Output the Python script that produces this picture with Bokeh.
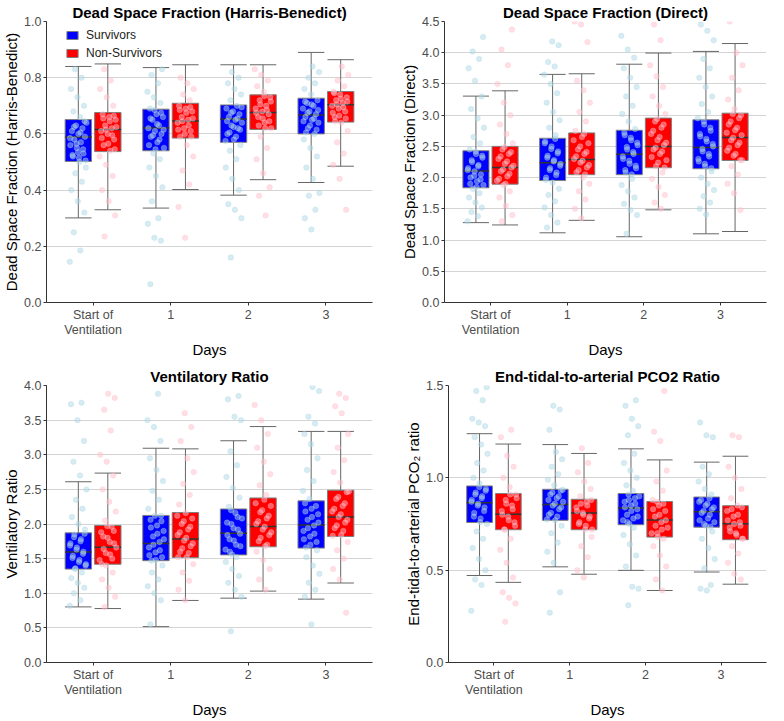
from bokeh.plotting import figure
from bokeh.models import Range1d, PrintfTickFormatter, Legend, LegendItem, ColumnDataSource
from bokeh.layouts import column, row
from bokeh.embed import file_html
from bokeh.resources import INLINE

# ---------------- data ----------------
DAYS = [0, 1, 2, 3]
DAY_LABELS = ["Start of\nVentilation", "1", "2", "3"]
GROUPS = ["Survivors", "Non-Survivors"]

# Dead Space Fraction (Harris-Benedict): box statistics per day
HB_SURV = dict(lo=[0.301, 0.336, 0.382, 0.427], q1=[0.502, 0.540, 0.570, 0.600],
               med=[0.589, 0.621, 0.653, 0.667], q3=[0.651, 0.688, 0.703, 0.727],
               hi=[0.840, 0.836, 0.846, 0.890])
HB_NONS = dict(lo=[0.330, 0.402, 0.437, 0.485], q1=[0.537, 0.585, 0.616, 0.642],
               med=[0.616, 0.646, 0.676, 0.704], q3=[0.676, 0.709, 0.739, 0.751],
               hi=[0.849, 0.846, 0.846, 0.864])
HB_SURV_PTS = [
    [0.145, 0.185, 0.25, 0.32, 0.36, 0.40, 0.43, 0.46, 0.48, 0.50, 0.52, 0.53, 0.55, 0.56, 0.57, 0.58, 0.59, 0.60, 0.61, 0.62, 0.63, 0.64, 0.66, 0.68, 0.70, 0.73, 0.76, 0.80, 0.83,
     0.505, 0.515, 0.525, 0.545, 0.565, 0.585, 0.605, 0.625, 0.645, 0.535],
    [0.065, 0.22, 0.23, 0.28, 0.30, 0.36, 0.41, 0.45, 0.48, 0.51, 0.53, 0.55, 0.57, 0.59, 0.60, 0.61, 0.62, 0.63, 0.65, 0.66, 0.67, 0.69, 0.71, 0.73, 0.75, 0.78, 0.81, 0.83,
     0.545, 0.56, 0.58, 0.595, 0.615, 0.635, 0.655, 0.675, 0.685],
    [0.16, 0.30, 0.33, 0.35, 0.40, 0.44, 0.48, 0.51, 0.54, 0.56, 0.58, 0.60, 0.62, 0.63, 0.64, 0.65, 0.66, 0.67, 0.68, 0.69, 0.70, 0.72, 0.74, 0.76, 0.78, 0.80, 0.82,
     0.575, 0.59, 0.605, 0.615, 0.625, 0.645, 0.655, 0.675, 0.695],
    [0.26, 0.30, 0.33, 0.38, 0.39, 0.44, 0.48, 0.52, 0.55, 0.58, 0.60, 0.62, 0.64, 0.65, 0.66, 0.67, 0.68, 0.69, 0.70, 0.71, 0.72, 0.74, 0.76, 0.78, 0.80, 0.82, 0.84,
     0.605, 0.615, 0.63, 0.645, 0.655, 0.675, 0.685, 0.705, 0.715],
]
HB_NONS_PTS = [
    [0.235, 0.31, 0.36, 0.40, 0.45, 0.49, 0.52, 0.54, 0.56, 0.58, 0.60, 0.61, 0.62, 0.63, 0.65, 0.66, 0.67, 0.70, 0.73, 0.76, 0.79, 0.83,
     0.545, 0.565, 0.585, 0.595, 0.615, 0.625, 0.645, 0.655, 0.665],
    [0.23, 0.34, 0.42, 0.47, 0.52, 0.56, 0.59, 0.61, 0.62, 0.64, 0.65, 0.66, 0.68, 0.69, 0.70, 0.72, 0.74, 0.76, 0.78, 0.80,
     0.59, 0.60, 0.615, 0.63, 0.645, 0.655, 0.675, 0.685, 0.695],
    [0.31, 0.38, 0.41, 0.46, 0.51, 0.55, 0.59, 0.62, 0.64, 0.66, 0.67, 0.68, 0.69, 0.70, 0.72, 0.73, 0.75, 0.77, 0.79, 0.81, 0.83,
     0.62, 0.63, 0.645, 0.655, 0.675, 0.685, 0.705, 0.715, 0.735],
    [0.33, 0.44, 0.49, 0.53, 0.57, 0.61, 0.64, 0.66, 0.68, 0.69, 0.70, 0.71, 0.72, 0.73, 0.74, 0.75, 0.77, 0.79, 0.81, 0.84,
     0.645, 0.655, 0.665, 0.675, 0.695, 0.705, 0.715, 0.725, 0.745],
]

# Dead Space Fraction (Direct)
DI_SURV = dict(lo=[1.279, 1.116, 1.053, 1.100], q1=[1.837, 1.953, 2.047, 2.142],
               med=[2.105, 2.237, 2.374, 2.484], q3=[2.430, 2.630, 2.758, 2.926],
               hi=[3.305, 3.653, 3.816, 4.021])
DI_NONS = dict(lo=[1.242, 1.316, 1.484, 1.137], q1=[1.895, 2.047, 2.158, 2.274],
               med=[2.163, 2.290, 2.500, 2.642], q3=[2.500, 2.716, 2.953, 3.032],
               hi=[3.390, 3.663, 3.995, 4.147])
DI_SURV_PTS = [
    [1.30, 1.38, 1.45, 1.52, 1.60, 1.68, 1.75, 1.82, 1.88, 1.94, 2.00, 2.05, 2.10, 2.15, 2.20, 2.25, 2.32, 2.38, 2.45, 2.55, 2.65, 2.80, 2.95, 3.10, 3.30, 3.55, 3.75, 3.90, 4.02, 4.25,
     1.85, 1.90, 1.97, 2.03, 2.12, 2.18, 2.28, 2.35, 2.42],
    [1.20, 1.28, 1.40, 1.52, 1.62, 1.72, 1.82, 1.92, 2.00, 2.08, 2.15, 2.22, 2.28, 2.35, 2.42, 2.50, 2.58, 2.68, 2.80, 2.92, 3.05, 3.20, 3.35, 3.50, 3.65, 3.78, 3.85, 4.12, 4.18,
     1.96, 2.04, 2.12, 2.19, 2.26, 2.32, 2.39, 2.46, 2.55, 2.62],
    [1.10, 1.40, 1.48, 1.58, 1.68, 1.78, 1.88, 1.98, 2.08, 2.15, 2.22, 2.30, 2.38, 2.45, 2.52, 2.60, 2.68, 2.78, 2.90, 3.02, 3.15, 3.30, 3.45, 3.60, 3.75, 3.92, 4.05, 4.27,
     2.05, 2.12, 2.19, 2.27, 2.34, 2.41, 2.49, 2.56, 2.64, 2.72],
    [1.41, 1.50, 1.60, 1.70, 1.80, 1.90, 2.00, 2.10, 2.18, 2.26, 2.34, 2.42, 2.50, 2.58, 2.66, 2.75, 2.85, 2.95, 3.05, 3.18, 3.30, 3.45, 3.60, 3.75, 3.90, 4.20, 4.35, 4.45,
     2.15, 2.22, 2.30, 2.38, 2.46, 2.54, 2.62, 2.70, 2.80, 2.90],
]
DI_NONS_PTS = [
    [1.30, 1.40, 1.55, 1.68, 1.78, 1.88, 1.95, 2.02, 2.10, 2.16, 2.22, 2.30, 2.38, 2.45, 2.55, 2.70, 2.85, 3.00, 3.20, 3.50, 3.80, 4.05, 4.37,
     1.90, 1.98, 2.06, 2.13, 2.19, 2.26, 2.34, 2.41, 2.49],
    [1.35, 1.50, 1.65, 1.78, 1.90, 2.00, 2.08, 2.16, 2.24, 2.30, 2.38, 2.45, 2.55, 2.65, 2.75, 2.90, 3.05, 3.20, 3.40, 3.55, 4.17, 4.45, 4.50,
     2.05, 2.12, 2.20, 2.27, 2.34, 2.41, 2.50, 2.60, 2.70],
    [1.50, 1.60, 1.72, 1.85, 1.98, 2.08, 2.18, 2.28, 2.38, 2.45, 2.52, 2.60, 2.70, 2.80, 2.90, 3.02, 3.15, 3.30, 3.45, 3.62, 3.80, 4.20, 4.45,
     2.16, 2.24, 2.33, 2.42, 2.48, 2.56, 2.65, 2.75, 2.85, 2.94],
    [1.48, 1.75, 1.90, 2.05, 2.18, 2.28, 2.38, 2.48, 2.56, 2.64, 2.72, 2.80, 2.90, 3.00, 3.10, 3.25, 3.40, 3.60, 3.80, 4.00, 4.50,
     2.28, 2.35, 2.43, 2.52, 2.60, 2.68, 2.76, 2.85, 2.95, 3.02],
]

# Ventilatory Ratio
VR_SURV = dict(lo=[0.803, 0.518, 0.929, 0.915], q1=[1.349, 1.470, 1.554, 1.652],
               med=[1.596, 1.718, 1.867, 1.984], q3=[1.872, 2.124, 2.217, 2.334],
               hi=[2.610, 3.094, 3.202, 3.337])
VR_NONS = dict(lo=[0.779, 0.896, 1.031, 1.148], q1=[1.419, 1.517, 1.671, 1.820],
               med=[1.666, 1.783, 1.965, 2.100], q3=[1.979, 2.166, 2.376, 2.488],
               hi=[2.735, 3.085, 3.407, 3.337])
VR_SURV_PTS = [
    [0.82, 0.90, 1.00, 1.08, 1.15, 1.22, 1.30, 1.36, 1.42, 1.48, 1.54, 1.60, 1.66, 1.72, 1.78, 1.85, 1.92, 2.00, 2.10, 2.22, 2.35, 2.50, 2.70, 2.90, 3.20, 3.50, 3.73, 3.75,
     1.35, 1.40, 1.45, 1.51, 1.57, 1.63, 1.69, 1.75, 1.81, 1.86],
    [0.55, 0.90, 1.00, 1.10, 1.20, 1.30, 1.40, 1.48, 1.55, 1.62, 1.70, 1.78, 1.86, 1.95, 2.04, 2.12, 2.22, 2.35, 2.48, 2.62, 2.78, 2.95, 3.20, 3.40, 3.50, 3.88,
     1.47, 1.52, 1.59, 1.66, 1.74, 1.82, 1.90, 1.98, 2.06, 2.12],
    [0.45, 0.95, 1.05, 1.15, 1.25, 1.35, 1.45, 1.52, 1.60, 1.68, 1.76, 1.84, 1.92, 2.00, 2.08, 2.16, 2.25, 2.38, 2.52, 2.68, 2.85, 3.05, 3.50, 3.55, 3.80, 3.85,
     1.56, 1.63, 1.70, 1.78, 1.86, 1.94, 2.02, 2.10, 2.20],
    [0.55, 0.95, 1.05, 1.15, 1.28, 1.40, 1.52, 1.62, 1.70, 1.78, 1.86, 1.94, 2.02, 2.10, 2.18, 2.26, 2.36, 2.48, 2.62, 2.78, 2.95, 3.15, 3.30, 3.45, 3.55, 3.92, 3.98,
     1.66, 1.74, 1.82, 1.90, 1.98, 2.06, 2.14, 2.22, 2.30],
]
VR_NONS_PTS = [
    [0.80, 0.95, 1.08, 1.20, 1.30, 1.40, 1.48, 1.56, 1.64, 1.72, 1.80, 1.88, 1.96, 2.05, 2.18, 2.32, 2.50, 2.70, 2.90, 3.00, 3.35, 3.65, 3.82, 3.88,
     1.42, 1.50, 1.58, 1.66, 1.74, 1.82, 1.90, 1.97],
    [0.90, 1.05, 1.18, 1.30, 1.42, 1.52, 1.60, 1.68, 1.76, 1.84, 1.92, 2.00, 2.08, 2.16, 2.28, 2.42, 2.58, 2.75, 2.95, 3.20, 3.40, 3.60,
     1.52, 1.58, 1.65, 1.72, 1.80, 1.88, 1.96, 2.04, 2.12],
    [1.05, 1.20, 1.35, 1.48, 1.60, 1.70, 1.80, 1.88, 1.96, 2.04, 2.12, 2.20, 2.30, 2.42, 2.56, 2.72, 2.90, 3.10, 3.30, 3.50, 3.72,
     1.68, 1.75, 1.84, 1.92, 2.00, 2.08, 2.17, 2.26, 2.35],
    [0.72, 1.20, 1.35, 1.50, 1.62, 1.74, 1.84, 1.94, 2.02, 2.10, 2.18, 2.26, 2.36, 2.46, 2.60, 2.75, 2.92, 3.10, 3.30, 3.60, 3.70, 3.82, 3.88,
     1.83, 1.90, 1.98, 2.06, 2.14, 2.22, 2.30, 2.39, 2.47],
]

# End-tidal-to-arterial PCO2 Ratio
ET_SURV = dict(lo=[0.471, 0.518, 0.499, 0.490], q1=[0.758, 0.770, 0.746, 0.733],
               med=[0.865, 0.856, 0.837, 0.816], q3=[0.956, 0.938, 0.915, 0.896],
               hi=[1.239, 1.180, 1.157, 1.085])
ET_NONS = dict(lo=[0.434, 0.478, 0.390, 0.424], q1=[0.719, 0.719, 0.679, 0.665],
               med=[0.803, 0.810, 0.772, 0.751], q3=[0.915, 0.884, 0.872, 0.849],
               hi=[1.183, 1.132, 1.097, 1.117])
ET_SURV_PTS = [
    [0.28, 0.42, 0.45, 0.50, 0.56, 0.62, 0.67, 0.71, 0.75, 0.78, 0.81, 0.84, 0.86, 0.88, 0.90, 0.92, 0.94, 0.97, 1.00, 1.04, 1.08, 1.13, 1.18, 1.22, 1.28, 1.30, 1.32, 1.42, 1.47, 1.49,
     0.76, 0.79, 0.82, 0.85, 0.87, 0.89, 0.91, 0.93, 0.95],
    [0.27, 0.38, 0.54, 0.60, 0.65, 0.70, 0.74, 0.77, 0.80, 0.83, 0.85, 0.87, 0.89, 0.91, 0.93, 0.96, 0.99, 1.02, 1.06, 1.10, 1.14, 1.26, 1.37, 1.39,
     0.775, 0.79, 0.81, 0.84, 0.86, 0.88, 0.90, 0.92, 0.935],
    [0.31, 0.40, 0.41, 0.52, 0.58, 0.64, 0.69, 0.73, 0.76, 0.79, 0.82, 0.84, 0.86, 0.88, 0.90, 0.93, 0.96, 1.00, 1.04, 1.08, 1.13, 1.23, 1.28, 1.32, 1.39, 1.42,
     0.75, 0.77, 0.78, 0.80, 0.83, 0.85, 0.87, 0.89, 0.91],
    [0.39, 0.40, 0.42, 0.51, 0.56, 0.62, 0.67, 0.71, 0.74, 0.77, 0.80, 0.82, 0.84, 0.86, 0.88, 0.91, 0.94, 0.98, 1.02, 1.06, 1.22, 1.23, 1.30,
     0.735, 0.75, 0.76, 0.78, 0.81, 0.83, 0.85, 0.87, 0.89],
]
ET_NONS_PTS = [
    [0.22, 0.32, 0.35, 0.38, 0.46, 0.54, 0.61, 0.67, 0.72, 0.76, 0.79, 0.82, 0.85, 0.88, 0.91, 0.95, 1.00, 1.06, 1.12, 1.22, 1.26,
     0.72, 0.74, 0.77, 0.80, 0.83, 0.86, 0.89, 0.91],
    [0.46, 0.50, 0.57, 0.63, 0.68, 0.72, 0.75, 0.78, 0.81, 0.84, 0.87, 0.90, 0.94, 0.98, 1.03, 1.08, 1.16,
     0.72, 0.74, 0.76, 0.79, 0.80, 0.82, 0.85, 0.86, 0.88],
    [0.39, 0.45, 0.52, 0.58, 0.63, 0.67, 0.70, 0.73, 0.76, 0.79, 0.82, 0.85, 0.88, 0.93, 0.98, 1.04, 1.20, 1.25, 1.47,
     0.68, 0.70, 0.72, 0.74, 0.77, 0.80, 0.83, 0.86, 0.87],
    [0.45, 0.48, 0.54, 0.59, 0.63, 0.67, 0.70, 0.73, 0.76, 0.79, 0.82, 0.85, 0.89, 0.94, 1.00, 1.06, 1.22, 1.23,
     0.67, 0.69, 0.71, 0.74, 0.75, 0.77, 0.80, 0.83, 0.84],
]

# ---------------- style ----------------
FONT = "Liberation Sans"
BOX_FILL = ["#0000FF", "#FF0000"]
PT_COLOR = ["#ADD8E6", "#FFC0CB"]
OFFSETS = [-0.19, 0.19]
BOX_W = 0.34
JIT = 0.11
LINE_COL = "#666666"
MED_COL = "#333333"


def make_panel(title, ylabel, ymax, yticks, boxes, pts, width, height,
               bl, br, bt, bb, legend_loc=None):
    p = figure(width=width, height=height, x_range=Range1d(-0.6, 3.6),
               y_range=Range1d(0, ymax), output_backend="svg",
               toolbar_location=None, title=title,
               min_border_left=bl, min_border_right=br,
               min_border_top=bt, min_border_bottom=bb)
    p.title.text_font = FONT
    p.title.text_font_size = "15px"
    p.title.text_font_style = "bold"
    p.title.text_color = "black"
    p.title.align = "center"
    p.title.standoff = 2
    p.outline_line_color = None
    p.xgrid.visible = False
    p.ygrid.grid_line_color = "#D4D4D4"
    p.ygrid.grid_line_width = 1

    p.xaxis.ticker = DAYS
    p.xaxis.major_label_overrides = {d: lab for d, lab in zip(DAYS, DAY_LABELS)}
    p.yaxis.ticker = yticks
    p.yaxis.formatter = PrintfTickFormatter(format="%.1f")
    p.xaxis.axis_label = "Days"
    p.yaxis.axis_label = ylabel
    for ax in (p.xaxis[0], p.yaxis[0]):
        ax.axis_label_text_font = FONT
        ax.axis_label_text_font_size = "15px"
        ax.axis_label_text_font_style = "normal"
        ax.axis_label_text_color = "black"
        ax.axis_label_text_line_height = 1.0
        ax.major_label_text_font = FONT
        ax.major_label_text_font_size = "12.5px"
        ax.major_label_text_color = "#4D4D4D"
        ax.major_label_text_line_height = 1.1
        ax.axis_line_color = "#333333"
        ax.major_tick_line_color = "#333333"
        ax.major_tick_out = 3
        ax.major_tick_in = 0
        ax.minor_tick_line_color = None
        ax.major_label_standoff = 2
        ax.axis_label_standoff = 1

    box_renderers = []
    for g in range(2):
        st = boxes[g]
        xs = [d + OFFSETS[g] for d in DAYS]
        src = ColumnDataSource(dict(
            x=xs, xl=[x - BOX_W / 2 for x in xs], xr=[x + BOX_W / 2 for x in xs],
            lo=st["lo"], q1=st["q1"], med=st["med"], q3=st["q3"], hi=st["hi"]))
        p.segment(x0="x", y0="lo", x1="x", y1="hi", source=src,
                  line_color=LINE_COL, line_width=1)
        p.segment(x0="xl", y0="lo", x1="xr", y1="lo", source=src,
                  line_color=LINE_COL, line_width=1)
        p.segment(x0="xl", y0="hi", x1="xr", y1="hi", source=src,
                  line_color=LINE_COL, line_width=1)
        r = p.vbar(x="x", width=BOX_W, bottom="q1", top="q3", source=src,
                   fill_color=BOX_FILL[g], line_color="#7F7F7F", line_width=1)
        p.segment(x0="xl", y0="med", x1="xr", y1="med", source=src,
                  line_color=MED_COL, line_width=1.5)
        box_renderers.append(r)

    for g in range(2):
        px, py = [], []
        for d, vals in zip(DAYS, pts[g]):
            for i, v in enumerate(vals):
                frac = (i * 0.6180339887 + 0.31 * g + 0.17 * d) % 1.0
                px.append(d + OFFSETS[g] + (frac - 0.5) * 2 * JIT)
                py.append(v)
        p.scatter(px, py, size=5.5, fill_color=PT_COLOR[g], fill_alpha=0.5,
                  line_color=PT_COLOR[g], line_alpha=0.3)

    if legend_loc is not None:
        lg = Legend(items=[LegendItem(label=GROUPS[0], renderers=[box_renderers[0]]),
                           LegendItem(label=GROUPS[1], renderers=[box_renderers[1]])],
                    location=legend_loc)
        lg.background_fill_alpha = 0
        lg.border_line_color = None
        lg.label_text_font = FONT
        lg.label_text_font_size = "12px"
        lg.label_text_color = "#222222"
        lg.glyph_width = 14
        lg.glyph_height = 10
        lg.spacing = 4
        lg.padding = 0
        lg.margin = 0
        lg.label_standoff = 7
        lg.label_height = 14
        p.add_layout(lg)
    return p


p1 = make_panel("Dead Space Fraction (Harris-Benedict)", "Dead Space Fraction (Harris-Benedict)",
                1.0, [0.0, 0.2, 0.4, 0.6, 0.8, 1.0], [HB_SURV, HB_NONS],
                [HB_SURV_PTS, HB_NONS_PTS], 384, 360, 42, 12, 12, 0, legend_loc=(19, 242))
p2 = make_panel("Dead Space Fraction (Direct)", "Dead Space Fraction (Direct)",
                4.5, [0.0, 0.5, 1.0, 1.5, 2.0, 2.5, 3.0, 3.5, 4.0, 4.5], [DI_SURV, DI_NONS],
                [DI_SURV_PTS, DI_NONS_PTS], 384, 360, 60, 2, 12, 0)
p3 = make_panel("Ventilatory Ratio", "Ventilatory Ratio",
                4.0, [0.0, 0.5, 1.0, 1.5, 2.0, 2.5, 3.0, 3.5, 4.0], [VR_SURV, VR_NONS],
                [VR_SURV_PTS, VR_NONS_PTS], 384, 360, 43, 12, 25, 0)
p4 = make_panel("End-tidal-to-arterial PCO2 Ratio", "End-tidal-to-arterial PCO\u2082 ratio",
                1.5, [0.0, 0.5, 1.0, 1.5], [ET_SURV, ET_NONS],
                [ET_SURV_PTS, ET_NONS_PTS], 384, 360, 64, 2, 25, 0)

layout = column(row(p1, p2), row(p3, p4))
open("out.html", "w").write(file_html(layout, INLINE))
